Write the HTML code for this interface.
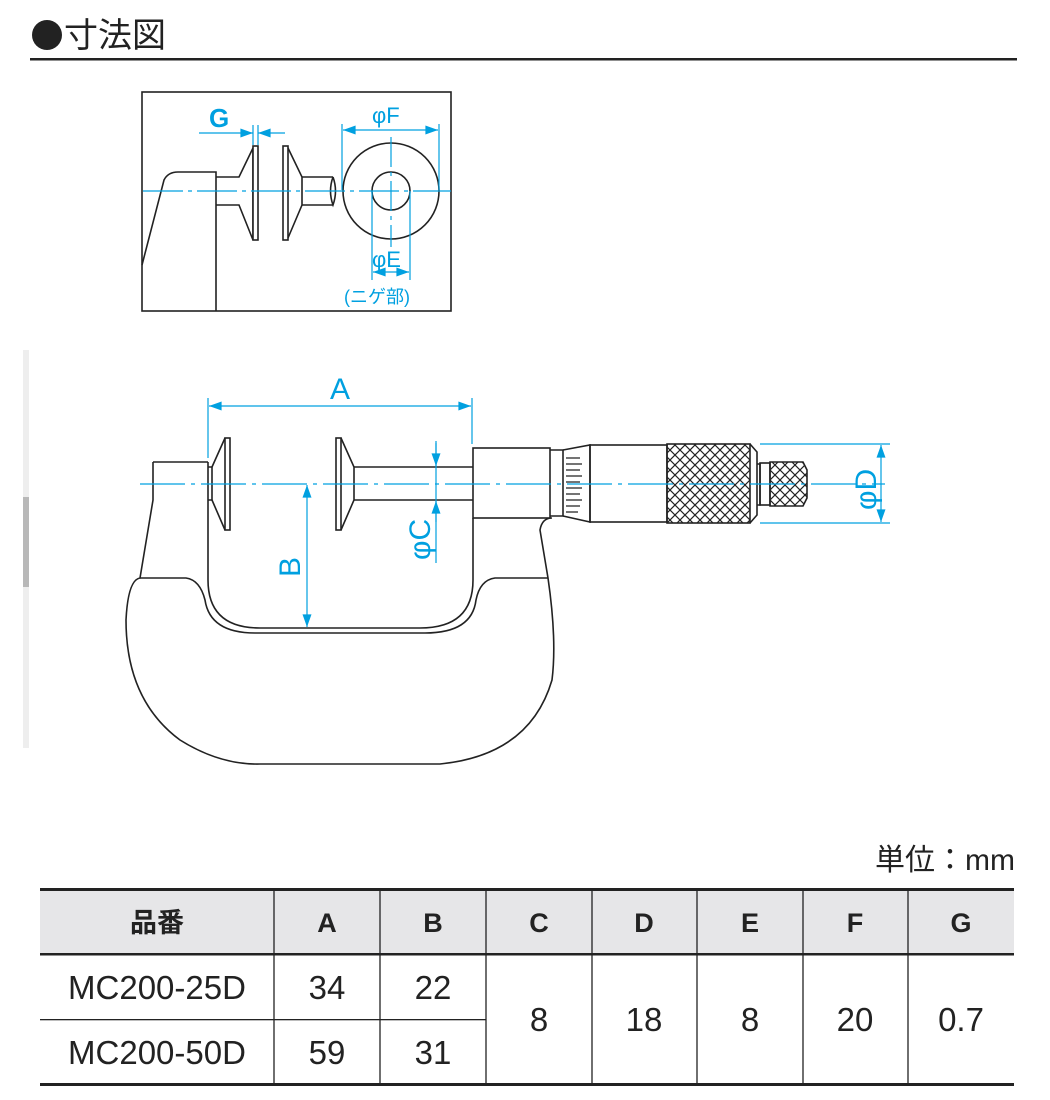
<!DOCTYPE html>
<html><head><meta charset="utf-8"><style>
html,body{margin:0;padding:0;background:#fff;}
svg{display:block;}
</style></head><body>
<svg width="1050" height="1100" viewBox="0 0 1050 1100" xmlns="http://www.w3.org/2000/svg">
<defs>
<marker id="ar" viewBox="0 0 14 10" refX="14" refY="5" markerWidth="14" markerHeight="9" markerUnits="userSpaceOnUse" orient="auto-start-reverse"><path d="M0,0 L14,5 L0,10 z" fill="#00a0e0"/></marker>
<pattern id="kn" width="10" height="10" patternUnits="userSpaceOnUse"><path d="M0,0 L10,10 M10,0 L0,10" stroke="#222" stroke-width="1.2"/></pattern>
</defs>
<!-- title -->
<circle cx="47" cy="35" r="15" fill="#222"/>
<text x="64" y="47" font-family="Liberation Sans, Noto Sans CJK JP, sans-serif" font-size="34" fill="#222">寸法図</text>
<rect x="30" y="58" width="987" height="2.5" fill="#222"/>
<!-- left strip -->
<rect x="23" y="350" width="6" height="398" fill="#eeeeee"/>
<rect x="23" y="497" width="6" height="90" fill="#b8b8b8"/>

<!-- inset -->
<g fill="none" stroke="#222" stroke-width="1.6">
<rect x="142" y="92" width="309" height="219"/>
<path d="M142,265 L164,180 Q168,172 178,172 L216,172 L216,311"/>
<path d="M216,177 L239,177 L253,148 L253,240 L239,205 L216,205"/>
<rect x="253" y="146" width="5" height="94" fill="#fff"/>
<rect x="283" y="146" width="5" height="94" fill="#fff"/>
<path d="M288,148 L302,177 L302,205 L288,238"/>
<path d="M302,177 L333,177 M302,205 L333,205"/>
<path d="M333,177 Q328,191 333,205 Q338,191 333,177"/>
<circle cx="391" cy="191" r="48"/>
<circle cx="391" cy="191" r="19"/>
</g>
<g stroke="#00a0e0" stroke-width="1.2" fill="none">
<path d="M143,191 L451,191" stroke-dasharray="40,5,4,5"/>
<path d="M391,137 L391,247" stroke-dasharray="30,5,4,5"/>
<path d="M342,124 L342,190 M439,124 L439,190 M372,191 L372,280 M410,191 L410,280"/>
<path d="M253,125 L253,145 M258,125 L258,145"/>
<path d="M199,133 L253,133" marker-end="url(#ar)"/>
<path d="M285,133 L258,133" marker-end="url(#ar)"/>
<path d="M343,130 L438,130" marker-start="url(#ar)" marker-end="url(#ar)"/>
<path d="M373,272 L409,272" marker-start="url(#ar)" marker-end="url(#ar)"/>
</g>
<g fill="#00a0e0" font-family="Liberation Sans, Noto Sans CJK JP, sans-serif">
<text x="209" y="127" font-size="26" font-weight="bold">G</text>
<text x="372" y="123" font-size="22">φF</text>
<text x="372" y="267" font-size="22">φE</text>
<text x="344" y="303" font-size="18">(ニゲ部)</text>
</g>

<!-- micrometer -->
<g fill="none" stroke="#222" stroke-width="1.6">
<path d="M153,462 L208,462 M153,462 L153,500 L140,578 Q128,580 126,620 Q126,700 180,740 Q220,765 260,764 L440,764 Q530,755 552,680 Q557,640 548,578 L540,530 Q542,518 552,518"/>
<path d="M140,578 L186,578 Q200,580 205,600 Q210,633 255,633 L425,633 Q472,633 476,600 Q480,580 495,578 L548,578"/>
<path d="M208,462 L208,580 Q208,628 260,628 L420,628 Q473,628 473,580 L473,518"/>
<path d="M208,467 L212,467 L212,500 L208,500"/>
<path d="M212,467 L225,438 M212,500 L225,530"/>
<rect x="225" y="438" width="5" height="92" fill="#fff"/>
<rect x="336" y="438" width="5" height="92" fill="#fff"/>
<path d="M341,438 L354,467 L354,500 L341,530"/>
<path d="M354,467 L473,467 M354,500 L473,500"/>
<rect x="473" y="448" width="77" height="70" fill="#fff"/>
<path d="M550,450 L563,450 L563,516 L550,516"/>
<path d="M563,450 L590,445 L590,522 L563,516"/>
<rect x="590" y="445" width="77" height="77"/>
<rect x="667" y="444" width="83" height="79" fill="url(#kn)"/>
<path d="M750,444 L757,452 L757,515 L750,523"/>
<path d="M757,464 L760,464 L760,505 L757,505"/>
<rect x="760" y="463" width="10" height="42"/>
<path d="M770,462 L803,462 L807,470 L807,498 L803,506 L770,506 z" fill="url(#kn)"/>
</g>
<g stroke="#222" stroke-width="1.2">
<path d="M566,458 L580,458 M566,464 L582,464 M566,470 L580,470 M566,476 L582,476 M566,482 L580,482 M566,488 L582,488 M566,494 L580,494 M566,500 L582,500 M566,506 L580,506 M566,512 L578,512"/>
</g>
<g stroke="#00a0e0" stroke-width="1.2" fill="none">
<path d="M140,484 L885,484" stroke-dasharray="45,6,4,6"/>
<path d="M208,398 L208,458 M472,398 L472,444 M436,441 L436,563 M760,444 L890,444 M760,523 L890,523"/>
<path d="M209,406 L471,406" marker-start="url(#ar)" marker-end="url(#ar)"/>
<path d="M307,485 L307,627" marker-start="url(#ar)" marker-end="url(#ar)"/>
<path d="M436,443 L436,466" marker-end="url(#ar)"/>
<path d="M436,522 L436,501" marker-end="url(#ar)"/>
<path d="M881,445 L881,522" marker-start="url(#ar)" marker-end="url(#ar)"/>
</g>
<g fill="#00a0e0" font-family="Liberation Sans, Noto Sans CJK JP, sans-serif" font-size="30">
<text x="330" y="399">A</text>
<text transform="translate(300,577) rotate(-90)">B</text>
<text transform="translate(430,560) rotate(-90)">φC</text>
<text transform="translate(876,510) rotate(-90)">φD</text>
</g>

<!-- table -->
<text x="1015" y="870" text-anchor="end" font-family="Liberation Sans, Noto Sans CJK JP, sans-serif" font-size="30" fill="#222">単位：mm</text>
<rect x="40" y="890" width="974" height="64" fill="#e6e6e8"/>
<rect x="40" y="888" width="974" height="3" fill="#222"/>
<rect x="40" y="953" width="974" height="2.5" fill="#222"/>
<rect x="40" y="1019" width="446" height="1.3" fill="#222"/>
<rect x="40" y="1083" width="974" height="3" fill="#222"/>
<g stroke="#222" stroke-width="1.3">
<path d="M274,890 V1084 M380,890 V1084 M486,890 V1084 M592,890 V1084 M697,890 V1084 M803,890 V1084 M908,890 V1084"/>
</g>
<g font-family="Liberation Sans, Noto Sans CJK JP, sans-serif" fill="#222" text-anchor="middle">
<g font-size="27" font-weight="bold">
<text x="157" y="932">品番</text><text x="327" y="932">A</text><text x="433" y="932">B</text><text x="539" y="932">C</text><text x="644" y="932">D</text><text x="750" y="932">E</text><text x="855" y="932">F</text><text x="961" y="932">G</text>
</g>
<g font-size="33">
<text x="157" y="999">MC200-25D</text><text x="327" y="999">34</text><text x="433" y="999">22</text>
<text x="157" y="1064">MC200-50D</text><text x="327" y="1064">59</text><text x="433" y="1064">31</text>
<text x="539" y="1031">8</text><text x="644" y="1031">18</text><text x="750" y="1031">8</text><text x="855" y="1031">20</text><text x="961" y="1031">0.7</text>
</g>
</g>
</svg>
</body></html>
